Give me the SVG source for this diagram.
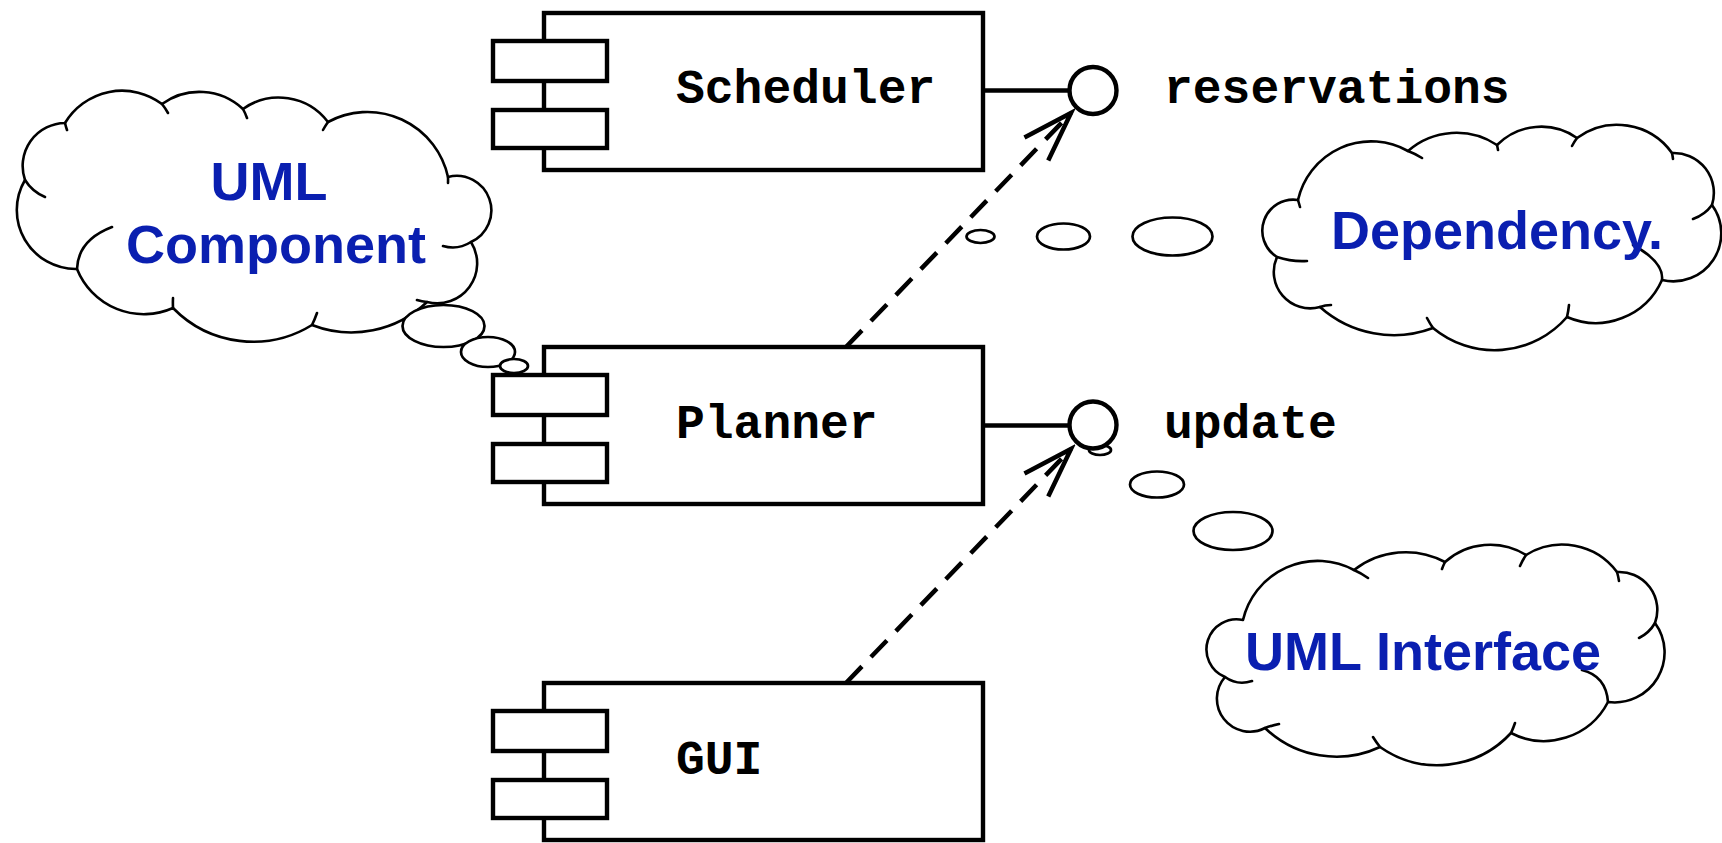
<svg xmlns="http://www.w3.org/2000/svg" width="1722" height="843" viewBox="0 0 1722 843">
<style>
.box{fill:#fff;stroke:#000;stroke-width:4.4}
.cloud{fill:#fff;stroke:#000;stroke-width:2.6;stroke-linejoin:round}
.tail{fill:none;stroke:#000;stroke-width:2.6;stroke-linecap:round}
.bub{fill:#fff;stroke:#000;stroke-width:2.7}
.mono{font-family:"Liberation Mono","Courier New",monospace;font-weight:bold;font-size:48px;fill:#000}
.note{font-family:"Liberation Sans",Arial,sans-serif;font-weight:bold;font-size:54px;fill:#0a1fb0;text-anchor:middle}
.dep{fill:none;stroke:#000;stroke-width:4.5;stroke-dasharray:23 13}
.lolli{fill:none;stroke:#000;stroke-width:4.4}
.iface{fill:#fff;stroke:#000;stroke-width:4.4}
</style>
<defs>
<marker id="open" markerUnits="userSpaceOnUse" markerWidth="64" markerHeight="44" viewBox="-58 -22 64 44" refX="0" refY="0" orient="auto">
<path d="M-50,-16.5 L0,0 L-50,16.5" fill="none" stroke="#000" stroke-width="4.5" stroke-dasharray="none"/>
</marker>
</defs>
<rect width="1722" height="843" fill="#fff"/>

<g id="note-component">
<path class="cloud" d="M25,180 A43 43 0 0 1 65,123 A66.5 66.5 0 0 1 162,104 A64 64 0 0 1 243,109 A61.6 61.6 0 0 1 328,122 A82.5 82.5 0 0 1 448,177 A34.6 34.6 0 0 1 471,242 A40 40 0 0 1 427,302 A109 109 0 0 1 312,325 A112 112 0 0 1 173,308 A72 72 0 0 1 77,269 A59 59 0 0 1 25,180 Z"/>
<path class="tail" d="M25,180 A43 43 0 0 0 45,197 M65,123 A66.5 66.5 0 0 0 67,130 M162,104 A66.5 66.5 0 0 1 168,113 M243,109 A64 64 0 0 1 247,118 M328,122 A82.5 82.5 0 0 0 323,130 M448,177 A82.5 82.5 0 0 1 448,183 M471,242 A34.6 34.6 0 0 1 443,246 M427,302 A40 40 0 0 1 417,300 M312,325 A112 112 0 0 0 317,313 M173,308 A112 112 0 0 1 173,298 M77,269 Q78,240 112,227"/>
<ellipse class="bub" cx="443.5" cy="326" rx="41" ry="21"/>
<ellipse class="bub" cx="488" cy="352" rx="27" ry="15"/>
<ellipse class="bub" cx="514" cy="366" rx="14" ry="7"/>
<text class="note" x="269" y="200">UML</text>
<text class="note" x="276" y="263">Component</text>
</g>

<g id="note-dependency">
<path class="cloud" d="M1277,257 A31 31 0 0 1 1298,200 A75 75 0 0 1 1408,151 A73.5 73.5 0 0 1 1497,145 A62.4 62.4 0 0 1 1577,138 A67.6 67.6 0 0 1 1672,153 A40 40 0 0 1 1712,205 A48 48 0 0 1 1662,280 A72.4 72.4 0 0 1 1567,317 A96 96 0 0 1 1433,328 A111 111 0 0 1 1320,307 A36.4 36.4 0 0 1 1277,257 Z"/>
<path class="tail" d="M1277,257 Q1292,262 1307,261 M1298,200 L1300,207 M1408,151 A75 75 0 0 1 1422,158 M1497,145 A73.5 73.5 0 0 1 1498,150 M1577,138 A67.6 67.6 0 0 0 1572,146 M1672,153 A67.6 67.6 0 0 1 1673,159 M1712,205 A40 40 0 0 1 1693,219 M1662,280 Q1664,262 1633,245 M1567,317 A96 96 0 0 0 1569,305 M1433,328 A96 96 0 0 1 1427,318 M1320,307 Q1325,305 1331,305"/>
<ellipse class="bub" cx="980.5" cy="236.5" rx="14" ry="6.5"/>
<ellipse class="bub" cx="1063.5" cy="236.5" rx="26.5" ry="13"/>
<ellipse class="bub" cx="1172.5" cy="236.5" rx="40" ry="19"/>
<text class="note" x="1497" y="249">Dependency.</text>
</g>

<g id="note-interface">
<path class="cloud" d="M1225,677 A30 30 0 0 1 1243,620 A76.7 76.7 0 0 1 1354,570 A84 84 0 0 1 1445,562 A68 68 0 0 1 1526,555 A68.5 68.5 0 0 1 1617,572 A38 38 0 0 1 1655,623 A50 50 0 0 1 1608,702 A72 72 0 0 1 1511,733 A100 100 0 0 1 1380,747 A103 103 0 0 1 1265,728 A33 33 0 0 1 1225,677 Z"/>
<path class="tail" d="M1225,677 A30 30 0 0 0 1252,681 M1354,570 A76.7 76.7 0 0 1 1368,578 M1445,562 A68 68 0 0 0 1442,569 M1526,555 A68.5 68.5 0 0 0 1520,566 M1617,572 A68.5 68.5 0 0 1 1619,581 M1655,623 A38 38 0 0 1 1639,638 M1608,702 Q1606,676 1582,670 M1511,733 A100 100 0 0 0 1515,723 M1380,747 A100 100 0 0 1 1373,737 M1265,728 Q1270,726 1279,724"/>
<ellipse class="bub" cx="1100" cy="450" rx="11" ry="5"/>
<ellipse class="bub" cx="1157" cy="484.5" rx="27" ry="13"/>
<ellipse class="bub" cx="1233" cy="531" rx="39.5" ry="19"/>
<text class="note" x="1423" y="670">UML Interface</text>
</g>

<g id="connectors">
<line class="lolli" x1="983" y1="90.5" x2="1069.5" y2="90.5"/>
<line class="lolli" x1="983" y1="425.5" x2="1069.5" y2="425.5"/>
<path class="dep" d="M846,347 L1071,113" marker-end="url(#open)"/>
<path class="dep" d="M846,683 L1071,449" marker-end="url(#open)"/>
</g>

<g id="scheduler">
<rect class="box" x="544" y="13" width="439" height="157"/>
<rect class="box" x="493" y="41" width="114" height="40"/>
<rect class="box" x="493" y="110" width="114" height="38"/>
<text class="mono" x="676" y="103">Scheduler</text>
</g>

<g id="planner">
<rect class="box" x="544" y="347" width="439" height="157"/>
<rect class="box" x="493" y="375" width="114" height="40"/>
<rect class="box" x="493" y="444" width="114" height="38"/>
<text class="mono" x="676" y="438">Planner</text>
</g>

<g id="gui">
<rect class="box" x="544" y="683" width="439" height="157"/>
<rect class="box" x="493" y="711" width="114" height="40"/>
<rect class="box" x="493" y="780" width="114" height="38"/>
<text class="mono" x="676" y="774">GUI</text>
</g>

<g id="reservations">
<circle class="iface" cx="1093" cy="90.5" r="23.5"/>
<text class="mono" x="1164" y="103">reservations</text>
</g>

<g id="update">
<circle class="iface" cx="1093" cy="425" r="23.5"/>
<text class="mono" x="1164" y="438">update</text>
</g>
</svg>
